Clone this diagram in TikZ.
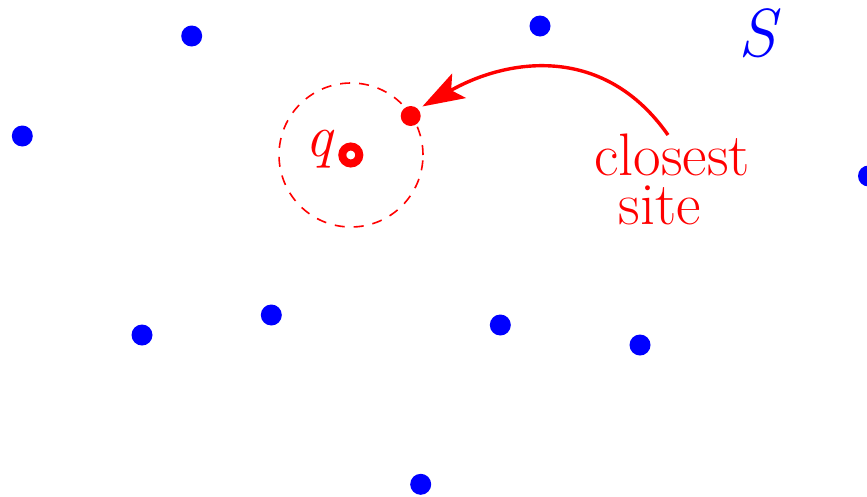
\documentclass[tikz,border=0pt]{standalone}
\usepackage{fontspec}
\usetikzlibrary{arrows.meta}
\definecolor{pr}{RGB}{255,0,0}
\definecolor{pb}{RGB}{0,0,255}
\tikzset{
  bdot/.style={circle, fill=pb, inner sep=0pt, minimum size=21pt},
  rdot/.style={circle, fill=pr, inner sep=0pt, minimum size=20pt},
  qring/.style={circle, draw=pr, line width=8pt, inner sep=0pt, minimum size=17pt},
  disk/.style={circle, draw=pr, dash pattern=on 10pt off 9pt, line width=1.6pt, inner sep=0pt, minimum size=144pt},
  lbl/.style={text=pr, inner sep=0pt, text depth=0pt, font=\rmfamily\fontsize{60}{60}\selectfont},
  arrowst/.style={draw=pr, line width=3.4pt, -{Stealth[length=42pt, width=28pt, inset=9pt]}}
}
\begin{document}
\begin{tikzpicture}[x=1pt, y=-1pt]
\useasboundingbox (0,0) rectangle (867,496);
% blue sites
\node[bdot] (s1) at (191.7,36) {};
\node[bdot] (s2) at (540,26) {};
\node[bdot] (s3) at (22.3,136) {};
\node[bdot] (s4) at (868.5,176) {};
\node[bdot] (s5) at (142,335) {};
\node[bdot] (s6) at (271.3,315) {};
\node[bdot] (s7) at (500.3,325) {};
\node[bdot] (s8) at (640,345) {};
\node[bdot] (s9) at (420.7,484.3) {};
% query and closest site
\node[disk] (ball) at (351,155) {};
\node[qring] (qpt) at (350.8,155) {};
\node[rdot] (near) at (410.7,116) {};
\node[text=pr, inner sep=0pt, anchor=base east, font=\rmfamily\itshape\fontsize{60}{60}\selectfont] (qlbl) at (333,156) {q};
\node[anchor=base west, inner sep=0pt, text=pb, font=\rmfamily\itshape\fontsize{68}{68}\selectfont] (slbl) at (738,56) {S};
\node[lbl, anchor=base] (closest) at (672,175) {closest};
\node[lbl, anchor=base] (site) at (660,224) {site};
\coordinate (astart) at (668,135);
\draw[arrowst, shorten >=5pt] (astart) .. controls (605,45) and (510,57) .. (near.44);
\end{tikzpicture}
\end{document}
